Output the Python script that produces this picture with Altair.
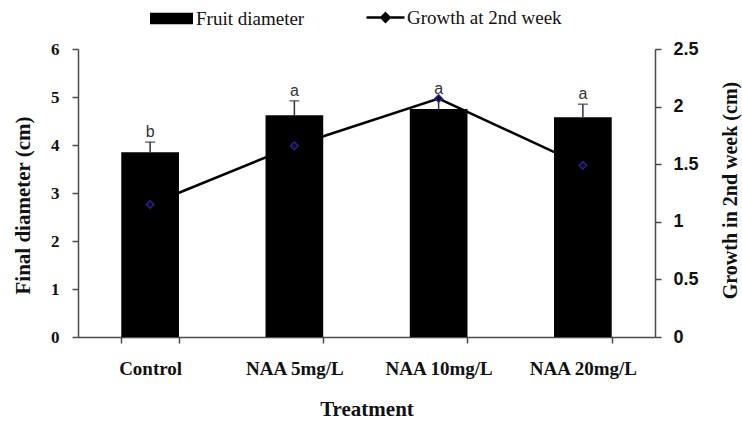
import altair as alt
import pandas as pd

# Treatment groups and measured values
categories = ["Control", "NAA 5mg/L", "NAA 10mg/L", "NAA 20mg/L"]
diameter = [3.85, 4.62, 4.75, 4.58]          # final fruit diameter (cm)
diameter_err = [0.21, 0.30, 0.20, 0.27]      # standard error of diameter
growth = [1.15, 1.66, 2.07, 1.49]            # growth in 2nd week (cm)
letters = ["b", "a", "a", "a"]               # significance groups

df = pd.DataFrame({
    "treatment": categories,
    "diameter": diameter,
    "err": diameter_err,
    "growth": growth,
    "letter": letters,
    "bar_series": "Fruit diameter",
    "line_series": "Growth at 2nd week",
})
df["top"] = df["diameter"] + df["err"]

SERIF = "Liberation Serif"
SANS = "Liberation Sans"
AXIS_GRAY = "#4a4a4a"
TEXT = "#111"

x = alt.X(
    "treatment:N",
    sort=categories,
    scale=alt.Scale(paddingInner=0.6, paddingOuter=0.3),
    axis=alt.Axis(
        title="Treatment",
        labelAngle=0,
        tickBand="extent",
        labelFont=SERIF,
        labelFontSize=19,
        labelFontWeight="bold",
        labelColor=TEXT,
        labelPadding=16,
        titleFont=SERIF,
        titleFontSize=21,
        titleFontWeight="bold",
        titleColor=TEXT,
        titlePadding=20,
        domainColor=AXIS_GRAY,
        domainWidth=1.5,
        tickColor=AXIS_GRAY,
        tickWidth=1.5,
        tickSize=6,
    ),
)

left_scale = alt.Scale(domain=[0, 6])
right_scale = alt.Scale(domain=[0, 2.5])

left_axis = alt.Axis(
    title="Final diameter (cm)",
    values=[0, 1, 2, 3, 4, 5, 6],
    format="d",
    grid=False,
    labelFont=SERIF,
    labelFontSize=17,
    labelFontWeight="bold",
    labelColor=TEXT,
    labelPadding=13,
    domainColor=AXIS_GRAY,
    domainWidth=1.5,
    tickColor=AXIS_GRAY,
    tickWidth=1.5,
    tickSize=6,
    titleFont=SERIF,
    titleFontSize=21,
    titleFontWeight="bold",
    titleColor=TEXT,
    titleAngle=270,
    titleX=-55,
    titleY=156,
    titleAlign="center",
    titleBaseline="middle",
)

right_axis = alt.Axis(
    title="Growth  in 2nd week (cm)",
    orient="right",
    values=[0, 0.5, 1, 1.5, 2, 2.5],
    format="~g",
    grid=False,
    labelFont=SANS,
    labelFontSize=18,
    labelFontWeight="bold",
    labelColor=TEXT,
    labelPadding=12,
    domainColor=AXIS_GRAY,
    domainWidth=1.5,
    tickColor=AXIS_GRAY,
    tickWidth=1.5,
    tickSize=6,
    titleFont=SERIF,
    titleFontSize=20,
    titleFontWeight="bold",
    titleColor=TEXT,
    titleAngle=270,
    titleX=75,
    titleY=141,
    titleAlign="center",
    titleBaseline="middle",
)

base = alt.Chart(df)

# Growth line (drawn behind the bars)
line = base.mark_line(strokeWidth=2.5).encode(
    x=x,
    y=alt.Y("growth:Q", scale=right_scale, axis=None),
    stroke=alt.Stroke(
        "line_series:N",
        scale=alt.Scale(domain=["Growth at 2nd week"], range=["black"]),
        legend=alt.Legend(
            orient="none",
            legendX=287,
            legendY=-52,
            title=None,
            padding=0,
            symbolType="M-1,0H1M0,-0.22L0.22,0L0,0.22L-0.22,0Z",
            symbolSize=1444,
            symbolStrokeWidth=2.5,
            symbolFillColor="#10105a",
            labelFont=SERIF,
            labelFontSize=19,
            labelColor=TEXT,
            labelOffset=1,
        ),
    ),
)

bars = base.mark_bar(color="black").encode(
    x=x,
    y=alt.Y("diameter:Q", scale=left_scale, axis=left_axis),
    fill=alt.Fill(
        "bar_series:N",
        scale=alt.Scale(domain=["Fruit diameter"], range=["black"]),
        legend=alt.Legend(
            orient="none",
            legendX=72,
            legendY=-52,
            title=None,
            padding=0,
            symbolType="M-1,-0.27H1V0.27H-1Z",
            symbolSize=1849,
            symbolStrokeWidth=0,
            labelFont=SERIF,
            labelFontSize=19,
            labelColor=TEXT,
            labelOffset=3,
        ),
    ),
)

# Upper error bars with caps
err_rule = base.mark_rule(color="#333", strokeWidth=1.5).encode(
    x=x,
    y=alt.Y("diameter:Q", scale=left_scale, axis=None),
    y2="top:Q",
)
err_cap = base.mark_tick(color="#333", thickness=1.5, size=10).encode(
    x=x,
    y=alt.Y("top:Q", scale=left_scale, axis=None),
)

# Significance letters above the error bars
labels = base.mark_text(
    font=SANS, fontSize=16, color="#333", baseline="bottom", dy=-2
).encode(
    x=x,
    y=alt.Y("top:Q", scale=left_scale, axis=None),
    text="letter:N",
)

# Diamond markers of the growth series, on top of everything
points = base.mark_point(
    shape="diamond", filled=True, size=60, fill="#0a0a40",
    stroke="#2a2a90", strokeWidth=1.2, opacity=1
).encode(
    x=x,
    y=alt.Y("growth:Q", scale=right_scale, axis=right_axis),
)

chart = (
    alt.layer(line, bars, err_rule, err_cap, labels, points)
    .resolve_scale(y="independent", fill="independent", stroke="independent")
    .properties(
        width=577,
        height=288,
        autosize=alt.AutoSizeParams(type="none"),
        padding={"left": 78, "top": 49, "right": 87, "bottom": 86},
        background="white",
    )
    .configure_view(stroke=None)
)

chart.save("out.html", embed_options={"renderer": "svg", "actions": False})
